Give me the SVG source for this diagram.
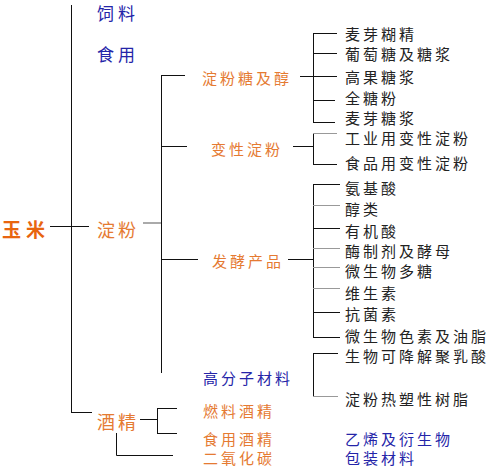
<svg xmlns="http://www.w3.org/2000/svg" width="488" height="469" viewBox="0 0 488 469">
<style>
text{font-family:"Noto Sans CJK SC","Noto Sans",sans-serif;dominant-baseline:central}
.k{font-size:15px;letter-spacing:3px;fill:#222}
.o{font-size:15px;letter-spacing:3px;fill:#E57A32}
.o1{font-size:18px;letter-spacing:3px;fill:#E57A32}
.b{font-size:15px;letter-spacing:3px;fill:#2424A8}
.b1{font-size:17px;letter-spacing:4px;fill:#2424A8}
.r{font-size:19px;letter-spacing:5px;fill:#E8650F;font-weight:bold}
.c line,.c path{stroke:#111;stroke-width:1;fill:none}
.c .g{stroke:#aaa;stroke-width:2}
.c .g1{stroke:#999}
</style>
<rect width="488" height="469" fill="#fff"/>
<g class="c" id="connectors">
<line x1="71.5" y1="5" x2="71.5" y2="412"/>
<line x1="71" y1="412.5" x2="92" y2="412.5"/>
<line x1="50" y1="226.5" x2="89" y2="226.5"/>
<line class="g" x1="143" y1="223" x2="161" y2="223"/>
<line x1="161.5" y1="75" x2="161.5" y2="373"/>
<line x1="161" y1="75.5" x2="185" y2="75.5"/>
<line x1="161" y1="146.5" x2="187" y2="146.5"/>
<line x1="161" y1="259.5" x2="198" y2="259.5"/>
<line x1="300" y1="76.5" x2="337" y2="76.5"/>
<line x1="313.5" y1="33" x2="313.5" y2="122"/>
<line x1="313" y1="33.5" x2="337" y2="33.5"/>
<line x1="313" y1="53.5" x2="337" y2="53.5"/>
<line x1="313" y1="100.5" x2="335" y2="100.5"/>
<line x1="313" y1="122.5" x2="335" y2="122.5"/>
<line x1="293" y1="146.5" x2="313" y2="146.5"/>
<line x1="313.5" y1="133" x2="313.5" y2="164"/>
<line class="g1" x1="313" y1="133.5" x2="337" y2="133.5"/>
<line x1="313" y1="164.5" x2="337" y2="164.5"/>
<line x1="288" y1="259.5" x2="313" y2="259.5"/>
<line x1="313.5" y1="184" x2="313.5" y2="337"/>
<line x1="313" y1="184.5" x2="340" y2="184.5"/>
<line class="g1" x1="313" y1="205.5" x2="340" y2="205.5"/>
<line x1="313" y1="228.5" x2="340" y2="228.5"/>
<line class="g1" x1="313" y1="248.5" x2="340" y2="248.5"/>
<line class="g1" x1="313" y1="267.5" x2="340" y2="267.5"/>
<line class="g1" x1="313" y1="288.5" x2="340" y2="288.5"/>
<line x1="313" y1="312.5" x2="340" y2="312.5"/>
<line x1="313" y1="337.5" x2="340" y2="337.5"/>
<line x1="313.5" y1="353" x2="313.5" y2="396"/>
<line x1="313" y1="353.5" x2="338" y2="353.5"/>
<line class="g1" x1="313" y1="396.5" x2="338" y2="396.5"/>
<line x1="140" y1="419.5" x2="157" y2="419.5"/>
<line x1="157.5" y1="408" x2="157.5" y2="433"/>
<line x1="157" y1="408.5" x2="177" y2="408.5"/>
<line x1="157" y1="433.5" x2="177" y2="433.5"/>
<path d="M116.5 433 V455.5 H173"/>
</g>
<g id="yumi"><text class="r" x="2" y="228">玉米</text></g>
<g id="siliao"><text class="b1" x="97" y="12">饲料</text></g>
<g id="shiyong"><text class="b1" x="97" y="53">食用</text></g>
<g id="dianfen"><text class="o1" x="97" y="229">淀粉</text></g>
<g id="jiujing"><text class="o1" x="97" y="421">酒精</text></g>
<g id="dianfentang"><text class="o" x="202" y="77">淀粉糖及醇</text></g>
<g id="bianxing"><text class="o" x="211" y="148">变性淀粉</text></g>
<g id="fajiao"><text class="o" x="212" y="260">发酵产品</text></g>
<g id="gaofenzi"><text class="b" x="203" y="377">高分子材料</text></g>
<g id="ranliao"><text class="o" x="203" y="410">燃料酒精</text></g>
<g id="shiyongjiujing"><text class="o" x="203" y="438">食用酒精</text></g>
<g id="eryang"><text class="o" x="203" y="457">二氧化碳</text></g>
<g id="l3">
<text class="k" x="345" y="33">麦芽糊精</text>
<text class="k" x="345" y="53">葡萄糖及糖浆</text>
<text class="k" x="345" y="76">高果糖浆</text>
<text class="k" x="345" y="97">全糖粉</text>
<text class="k" x="345" y="117">麦芽糖浆</text>
<text class="k" x="345" y="137">工业用变性淀粉</text>
<text class="k" x="345" y="162">食品用变性淀粉</text>
<text class="k" x="345" y="187">氨基酸</text>
<text class="k" x="345" y="208">醇类</text>
<text class="k" x="345" y="230">有机酸</text>
<text class="k" x="345" y="250">酶制剂及酵母</text>
<text class="k" x="345" y="270">微生物多糖</text>
<text class="k" x="345" y="292">维生素</text>
<text class="k" x="345" y="313">抗菌素</text>
<text class="k" x="345" y="335">微生物色素及油脂</text>
<text class="k" x="345" y="355">生物可降解聚乳酸</text>
<text class="k" x="345" y="398">淀粉热塑性树脂</text>
<text class="b" x="345" y="438">乙烯及衍生物</text>
<text class="b" x="345" y="457">包装材料</text>
</g>
</svg>
